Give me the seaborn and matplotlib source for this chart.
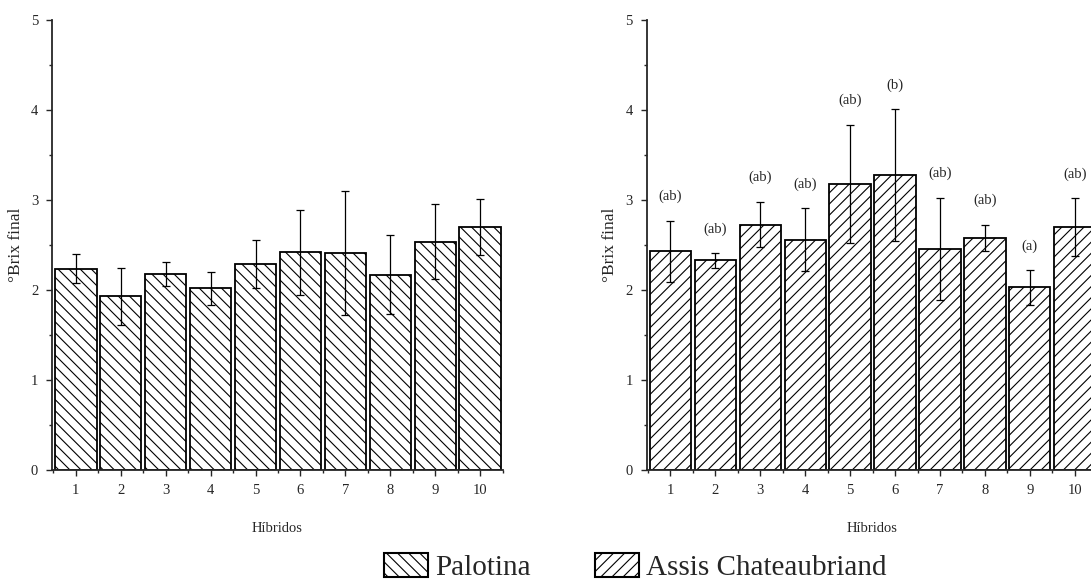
import matplotlib
matplotlib.use("Agg")
import matplotlib.pyplot as plt
import matplotlib.patches as mpatches
from matplotlib.ticker import MultipleLocator
import seaborn as sns
import pandas as pd

# Valores (°Brix final por híbrido)
hibridos = list(range(1, 11))
palotina_media = [2.24, 1.93, 2.18, 2.02, 2.29, 2.42, 2.41, 2.17, 2.54, 2.70]
palotina_dp = [0.16, 0.32, 0.13, 0.18, 0.27, 0.47, 0.69, 0.44, 0.42, 0.31]
assis_media = [2.43, 2.33, 2.73, 2.56, 3.18, 3.28, 2.46, 2.58, 2.03, 2.70]
assis_dp = [0.34, 0.08, 0.25, 0.35, 0.66, 0.73, 0.57, 0.15, 0.19, 0.32]
assis_letras = ["(ab)", "(ab)", "(ab)", "(ab)", "(ab)", "(b)", "(ab)", "(ab)", "(a)", "(ab)"]

locais = ["Palotina", "Assis Chateaubriand"]
hachuras = ["\\\\\\", "///"]

sns.set_style("ticks")
plt.rcParams["font.family"] = ["Liberation Serif", "DejaVu Serif"]
plt.rcParams["hatch.linewidth"] = 0.8

fig = plt.figure(figsize=(10.91, 5.87), dpi=100)
ax_pal = fig.add_axes([0.0477, 0.1993, 0.413, 0.766])
ax_ass = fig.add_axes([0.5927, 0.1993, 0.413, 0.766])

dados = [
    (ax_pal, palotina_media, palotina_dp, hachuras[0], None),
    (ax_ass, assis_media, assis_dp, hachuras[1], assis_letras),
]

for ax, media, dp, hachura, letras in dados:
    df = pd.DataFrame({"Hibrido": hibridos, "Brix": media, "dp": dp})
    sns.barplot(data=df, x="Hibrido", y="Brix", native_scale=True, width=0.92,
                color="white", saturation=1, edgecolor="black", linewidth=1.3,
                hatch=hachura, errorbar=None, ax=ax)
    ax.errorbar(df["Hibrido"], df["Brix"], yerr=df["dp"], fmt="none",
                ecolor="black", elinewidth=0.9, capsize=3, capthick=0.9, zorder=5)
    if letras is not None:
        for x, m, e, t in zip(df["Hibrido"], df["Brix"], df["dp"], letras):
            ax.text(x, m + e + 0.27, t, ha="center", va="center", fontsize=10.5)

    ax.set_xlim(0.47, 10.5)
    ax.set_ylim(0, 5)
    ax.set_xticks(hibridos)
    ax.set_xticklabels([str(h) for h in hibridos])
    ax.set_xticks([h + 0.5 for h in [0] + hibridos], minor=True)
    ax.set_yticks([0, 1, 2, 3, 4, 5])
    ax.yaxis.set_minor_locator(MultipleLocator(0.5))
    ax.tick_params(axis="both", which="major", direction="out", length=4,
                   width=1, labelsize=10.5, pad=6)
    ax.tick_params(axis="both", which="minor", direction="out", length=2.5, width=1)
    for s in ["left", "bottom"]:
        ax.spines[s].set_linewidth(1.3)
    sns.despine(ax=ax)
    ax.set_xlabel("Híbridos", fontsize=10.5, labelpad=18)
    ax.set_ylabel("°Brix final", fontsize=12.5, labelpad=5)

handles = [mpatches.Patch(facecolor="white", edgecolor="black", hatch=h, linewidth=1.5)
           for h in hachuras]
fig.legend(handles, locais, loc="center", bbox_to_anchor=(0.5825, 0.034), ncol=2,
           frameon=False, fontsize=21, handlelength=1.5, handleheight=0.9,
           handletextpad=0.25, columnspacing=2.2, borderpad=0)

fig.savefig("out.png", dpi=100)
